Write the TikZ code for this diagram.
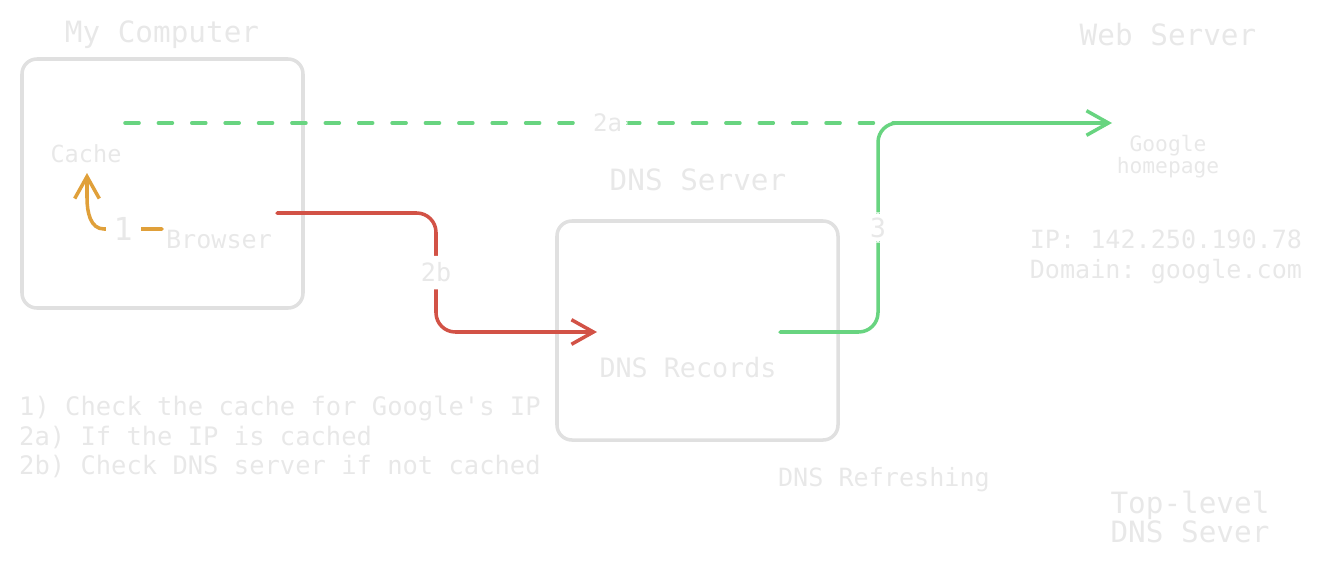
\documentclass[tikz,border=0pt]{standalone}
\usepackage{fontspec}
\setmonofont{DejaVu Sans Mono}
\usetikzlibrary{arrows.meta}
\definecolor{inkgray}{RGB}{232,232,232}
\definecolor{boxgray}{RGB}{224,224,224}
\definecolor{okgreen}{RGB}{104,212,128}
\definecolor{errred}{RGB}{210,82,70}
\definecolor{hitorange}{RGB}{224,160,58}
\tikzstyle{every node}=[font=\ttfamily\fontsize{14.3pt}{17pt}\selectfont, text=inkgray]

\begin{document}
\begin{tikzpicture}[x=0.02cm, y=-0.02cm,
    box/.style={draw=boxgray, line width=2pt, rounded corners=8.5pt},
    flow/.style={line width=2pt, line cap=round, rounded corners=11pt},
    tip/.style={-{Straight Barb[length=12.5pt, width=14pt, line width=2pt]}},
    gap/.style={fill=white, inner sep=3pt},
    big/.style={font=\ttfamily\fontsize{16.7pt}{17pt}\selectfont}]
            \useasboundingbox (0,0) rectangle (1343,572);

            % Boxes
            \draw[box] (22,59) rectangle (303,308);
            \draw[box] (557,221) rectangle (838,440);

            % Titles
            \node[big] (mycomp) at (162,35) {My Computer};
            \node[big] (dnsserver) at (698,180) {DNS Server};
            \node[big] (webserver) at (1168,35) {Web Server};
            \node[big, align=center] (toplevel) at (1190,517) {Top-level\\DNS Sever};

            % Inner labels
            \node[font=\ttfamily\fontsize{13.4pt}{17pt}\selectfont] (cache) at (86,154) {Cache};
            \node (browser) at (219,240) {Browser};
            \node[font=\ttfamily\fontsize{15.2pt}{17pt}\selectfont] (records) at (688,368) {DNS Records};
            \node[font=\ttfamily\fontsize{12.1pt}{12.5pt}\selectfont, align=center] (homepage) at (1168,157) {Google\\homepage};
            \node[align=center] (ipinfo) at (1166,257) {IP: 142.250.190.78\\Domain: google.com};
            \node (refresh) at (884,480) {DNS Refreshing};

            % Legend
            \node[align=left, anchor=west, font=\ttfamily\fontsize{14.5pt}{17pt}\selectfont] (legend) at (13,437) {1) Check the cache for Google's IP\\2a) If the IP is cached\\2b) Check DNS server if not cached};

            % Connector ends
            \coordinate (cacheOut) at (125,123);
            \coordinate (webIn) at (1112,123);
            \coordinate (browserOut) at (277,213);
            \coordinate (recordsIn) at (597,332);
            \coordinate (recordsOut) at (780,332);
            \coordinate (browserLeft) at (162,229);
            \coordinate (cacheIn) at (87,173);

            % 2a: cached IP
            \draw[flow, okgreen, dash pattern=on 8pt off 11pt] (cacheOut) -- node[gap, font=\ttfamily\fontsize{13.7pt}{17pt}\selectfont] (lbla) {2a} (1090,123);

            % 1: check cache
            \draw[flow, sharp corners, hitorange, tip] (browserLeft) -- node[gap, pos=0.67, inner sep=4.5pt, font=\ttfamily\fontsize{18pt}{20pt}\selectfont] (lblone) {1} (104,229) to[out=180, in=-90] (87,198) -- (cacheIn);

            % 2b: ask DNS server
            \draw[flow, errred, tip] (browserOut) -- (436,213) -- node[gap, inner sep=4pt] (lblb) {2b} (436,332) -- (recordsIn);

            % 3: answer to web server
            \draw[flow, okgreen, tip] (recordsOut) -- (878,332) -- node[gap, font=\ttfamily\fontsize{15pt}{17pt}\selectfont] (lblthree) {3} (878,123) -- (webIn);
\end{tikzpicture}
\end{document}
